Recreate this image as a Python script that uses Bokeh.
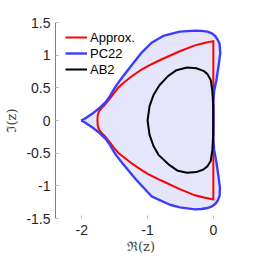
from bokeh.plotting import figure
from bokeh.models import Range1d, FixedTicker, Legend, LegendItem
from bokeh.embed import file_html
from bokeh.resources import INLINE

# ---------------- data ----------------
x_ticks = [-2, -1, 0]
x_tick_labels = ["-2", "-1", "0"]
y_ticks = [-1.5, -1, -0.5, 0, 0.5, 1, 1.5]
y_tick_labels = ["-1.5", "-1", "-0.5", "0", "0.5", "1", "1.5"]

series_names = ["Approx.", "PC22", "AB2"]

# PC22 stability boundary (blue), closed curve
pc22_re = [-2.01, -1.95, -1.90, -1.82, -1.75, -1.69, -1.63, -1.58, -1.54, -1.48,
           -1.37, -1.23, -1.09, -0.94, -0.75, -0.51, -0.28, -0.18, -0.09, -0.02,
           0.03, 0.07, 0.095, 0.105, 0.08, 0.045, 0.012, 0.0, 0.0,
           0.0, 0.012, 0.047, 0.08, 0.10, 0.095, 0.07, 0.035, -0.02, -0.09,
           -0.18, -0.28, -0.51, -0.66, -0.94, -1.18, -1.37, -1.48, -1.54, -1.58,
           -1.63, -1.69, -1.75, -1.82, -1.90, -1.95, -2.01]
pc22_im = [0.0, 0.03, 0.065, 0.12, 0.175, 0.23, 0.29, 0.36, 0.43, 0.53,
           0.68, 0.86, 1.04, 1.19, 1.30, 1.36, 1.375, 1.372, 1.36, 1.335,
           1.29, 1.23, 1.17, 1.03, 0.84, 0.61, 0.45, 0.30, 0.0,
           -0.30, -0.45, -0.64, -0.87, -1.03, -1.15, -1.22, -1.27, -1.315, -1.34,
           -1.355, -1.36, -1.33, -1.29, -1.16, -0.90, -0.67, -0.53, -0.43, -0.36,
           -0.29, -0.23, -0.175, -0.12, -0.065, -0.03, 0.0]

# Approximate boundary (red), closed curve
approx_re = [-1.762, -1.758, -1.74, -1.70, -1.65, -1.61, -1.51, -1.44, -1.37, -1.23,
             -1.09, -0.99, -0.80, -0.51, -0.28, -0.14, 0.0,
             0.0, -0.14, -0.28, -0.51, -0.80, -0.99, -1.09, -1.23, -1.37,
             -1.44, -1.51, -1.61, -1.65, -1.70, -1.74, -1.758, -1.762]
approx_im = [0.0, 0.08, 0.14, 0.19, 0.24, 0.29, 0.42, 0.51, 0.575, 0.685,
             0.78, 0.835, 0.93, 1.06, 1.15, 1.185, 1.215,
             -1.21, -1.18, -1.145, -1.05, -0.915, -0.82, -0.76, -0.665, -0.555,
             -0.50, -0.42, -0.29, -0.24, -0.19, -0.14, -0.08, 0.0]

# AB2 stability boundary (black), closed curve
ab2_re = [0.0, -0.003, -0.015, -0.04, -0.09, -0.15, -0.26, -0.40, -0.56, -0.69,
          -0.82, -0.91, -0.97, -1.0, -0.97, -0.91, -0.83, -0.67, -0.54, -0.40,
          -0.26, -0.15, -0.09, -0.04, -0.015, -0.003, 0.0]
ab2_im = [0.0, 0.24, 0.45, 0.62, 0.71, 0.76, 0.80, 0.81, 0.77, 0.68,
          0.54, 0.39, 0.22, 0.0, -0.22, -0.39, -0.53, -0.68, -0.77, -0.80,
          -0.79, -0.75, -0.70, -0.62, -0.45, -0.24, 0.0]

# ---------------- figure ----------------
p = figure(width=261, height=261, output_backend="svg", toolbar_location=None,
           x_range=Range1d(-2.4, 0.2), y_range=Range1d(-1.5, 1.5),
           min_border_left=55, min_border_right=35, min_border_top=22,
           min_border_bottom=43)
p.outline_line_color = None
p.xgrid.visible = False
p.ygrid.visible = False
p.background_fill_color = "white"
p.border_fill_color = "white"

p.patch(pc22_re, pc22_im, fill_color="#e5e5fc", line_color=None)
r1 = p.line(approx_re, approx_im, line_color="#ff0000", line_width=2,
            line_join="miter")
r2 = p.line(pc22_re, pc22_im, line_color="#3c3cff", line_width=2.4,
            line_join="round")
r3 = p.line(ab2_re, ab2_im, line_color="black", line_width=2,
            line_join="round")

legend = Legend(items=[LegendItem(label=series_names[0], renderers=[r1]),
                       LegendItem(label=series_names[1], renderers=[r2]),
                       LegendItem(label=series_names[2], renderers=[r3])],
                location=(10, 141), padding=0, spacing=0, margin=0,
                glyph_width=22, glyph_height=16, label_height=16,
                label_standoff=3, label_text_font="Liberation Sans",
                label_text_font_size="13px", label_text_color="black",
                background_fill_alpha=0, border_line_color=None)
p.add_layout(legend)

for ax in (p.xaxis, p.yaxis):
    ax.minor_tick_line_color = None
    ax.major_tick_out = 0
    ax.major_tick_line_color = "#b8b8b8"
    ax.major_label_text_font = "Liberation Sans"
    ax.major_label_text_font_size = "14px"
    ax.major_label_text_color = "#262626"
    ax.axis_label_text_font = "DejaVu Serif"
    ax.axis_label_text_font_size = "13px"
    ax.axis_label_text_font_style = "normal"
    ax.axis_label_text_color = "#404040"

p.xaxis.ticker = FixedTicker(ticks=x_ticks)
p.xaxis.major_label_overrides = dict(zip(x_ticks, x_tick_labels))
p.yaxis.ticker = FixedTicker(ticks=y_ticks)
p.yaxis.major_label_overrides = dict(zip(y_ticks, y_tick_labels))

p.xaxis.axis_line_color = None
p.xaxis.major_tick_in = 3
p.xaxis.major_label_standoff = 6
p.xaxis.axis_label_standoff = 1
p.xaxis.axis_label = "ℜ(z)"

p.yaxis.axis_line_color = "#808080"
p.yaxis.major_tick_in = 3
p.yaxis.major_label_standoff = 5
p.yaxis.axis_label_standoff = 4
p.yaxis.axis_label = "ℑ(z)"

open("out.html", "w").write(file_html(p, INLINE))
